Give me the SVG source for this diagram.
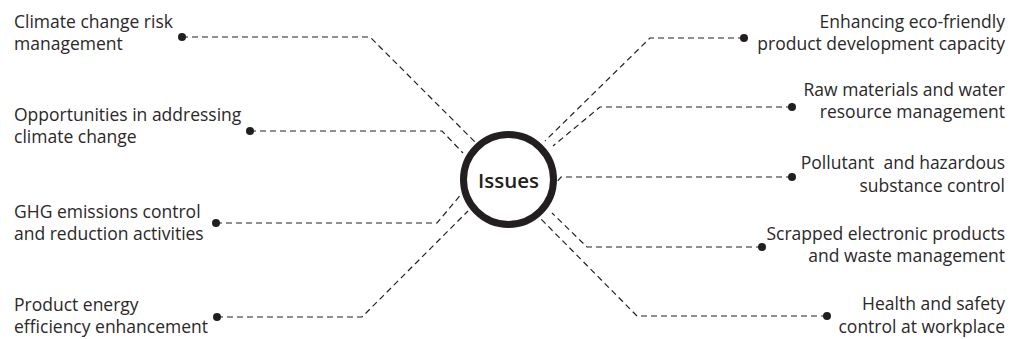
<svg xmlns="http://www.w3.org/2000/svg" width="1013" height="339" viewBox="0 0 1013 339">
<style>
.lbl{font-family:"Open Sans","Noto Sans",sans-serif;font-size:17.5px;fill:#2b2829}
.r{text-anchor:end}
.con{fill:none;stroke:#231f20;stroke-width:1.2;stroke-dasharray:6 4}
.dot{fill:#231f20}
</style>
<rect width="1013" height="339" fill="#fff"/>
<g id="connectors">
<polyline class="con" points="182,37 370,37 476,143"/>
<polyline class="con" points="250,131 442,131 463,153"/>
<polyline class="con" points="216,223 437,223 463,192"/>
<polyline class="con" points="217,317 362,317 468,211"/>
<polyline class="con" points="744,38 650,38 545,141"/>
<polyline class="con" points="792,107 600,107 553,146"/>
<polyline class="con" points="792,177 561,177 556,183"/>
<polyline class="con" points="762,247 587,247 552,213"/>
<polyline class="con" points="827,316 637,316 540,218"/>
<circle class="dot" cx="182" cy="37" r="4"/>
<circle class="dot" cx="250" cy="131" r="4"/>
<circle class="dot" cx="216" cy="223" r="4"/>
<circle class="dot" cx="217" cy="317" r="4"/>
<circle class="dot" cx="744" cy="38" r="4"/>
<circle class="dot" cx="792" cy="107" r="4"/>
<circle class="dot" cx="792" cy="177" r="4"/>
<circle class="dot" cx="762" cy="247" r="4"/>
<circle class="dot" cx="827" cy="316" r="4"/>
</g>
<g id="issues">
<circle cx="508.5" cy="179.5" r="45" fill="#fff" stroke="#231f20" stroke-width="7"/>
<text x="508.5" y="187.5" text-anchor="middle" style="font-family:'Open Sans','Noto Sans',sans-serif;font-size:20.5px;font-weight:600;fill:#231f20">Issues</text>
</g>
<g id="n1"><text class="lbl" x="14" y="28">Climate change risk</text><text class="lbl" x="14" y="50">management</text></g>
<g id="n2"><text class="lbl" x="14" y="121">Opportunities in addressing</text><text class="lbl" x="14" y="143">climate change</text></g>
<g id="n3"><text class="lbl" x="14" y="218">GHG emissions control</text><text class="lbl" x="14" y="240">and reduction activities</text></g>
<g id="n4"><text class="lbl" x="14" y="311">Product energy</text><text class="lbl" x="14" y="333">efficiency enhancement</text></g>
<g id="n5"><text class="lbl r" x="1005" y="28">Enhancing eco-friendly</text><text class="lbl r" x="1005" y="50">product development capacity</text></g>
<g id="n6"><text class="lbl r" x="1005" y="96">Raw materials and water</text><text class="lbl r" x="1005" y="118">resource management</text></g>
<g id="n7"><text class="lbl r" x="1005" y="169">Pollutant&#160; and hazardous</text><text class="lbl r" x="1005" y="192">substance control</text></g>
<g id="n8"><text class="lbl r" x="1005" y="240">Scrapped electronic products</text><text class="lbl r" x="1005" y="262">and waste management</text></g>
<g id="n9"><text class="lbl r" x="1005" y="310">Health and safety</text><text class="lbl r" x="1005" y="333">control at workplace</text></g>
</svg>
